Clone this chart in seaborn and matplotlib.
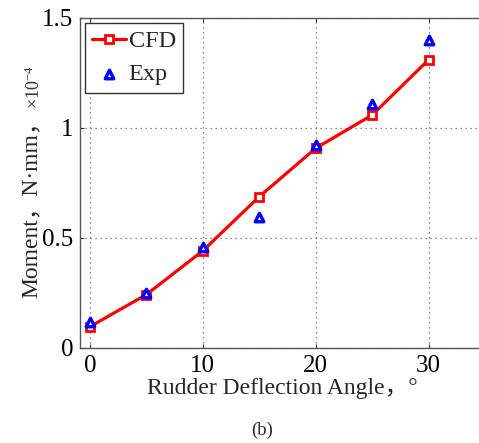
import matplotlib
matplotlib.use("Agg")
import matplotlib.pyplot as plt
import seaborn as sns
import pandas as pd

# Rudder deflection angle (degrees) and moment (x1e-4 N·mm)
angles = [0, 5, 10, 15, 20, 25, 30]
cfd_moment = [0.097, 0.243, 0.442, 0.688, 0.908, 1.059, 1.310]
exp_moment = [0.120, 0.252, 0.458, 0.597, 0.922, 1.110, 1.400]

x_ticks = [0, 10, 20, 30]
y_ticks = [0, 0.5, 1, 1.5]
y_tick_labels = ["0", "0.5", "1", "1.5"]

sns.set_style("ticks")
serif = ["Liberation Serif", "Noto Sans CJK SC", "DejaVu Sans"]
plt.rcParams["font.family"] = serif
plt.rcParams["mathtext.fontset"] = "custom"
plt.rcParams["mathtext.rm"] = "Liberation Serif"
plt.rcParams["mathtext.it"] = "Liberation Serif:italic"

df_cfd = pd.DataFrame({"angle": angles, "moment": cfd_moment})
df_exp = pd.DataFrame({"angle": angles, "moment": exp_moment})

W, H = 479, 443
fig = plt.figure(figsize=(W / 100, H / 100), dpi=100)
ax = fig.add_axes([80 / W, (H - 348) / H, 405 / W, 330 / H])

sns.lineplot(data=df_cfd, x="angle", y="moment", ax=ax, color="#ff0000",
             linewidth=2.3, marker="s", markersize=5.5, markerfacecolor="white",
             markeredgecolor="#ff0000", markeredgewidth=2.0, label="CFD",
             zorder=3)
sns.scatterplot(data=df_exp, x="angle", y="moment", ax=ax, marker="^",
                s=38, facecolor="white", edgecolor="#0000ff", linewidth=2.4,
                label="Exp", zorder=4)

ax.set_xlim(-0.885, 35)
ax.set_ylim(0, 1.5)
ax.set_xticks(x_ticks)
ax.set_yticks(y_ticks)
ax.set_yticklabels(y_tick_labels)
ax.tick_params(direction="in", length=3, width=0.8, labelsize=18, top=True,
               colors="#333333", labelcolor="black", pad=5)
for side in ["left", "bottom", "top"]:
    ax.spines[side].set_color("#555555")
    ax.spines[side].set_linewidth(1.0)
ax.spines["right"].set_visible(False)

ax.grid(True, linestyle=(0, (1, 3)), linewidth=0.9, color="#666666")
ax.set_axisbelow(True)

ax.set_xlabel("Rudder Deflection Angle，°", fontsize=17, labelpad=1)
ax.set_ylabel("")

fig.text(31 / W, (H - 298) / H, "Moment，N·mm，", rotation=90,
         ha="center", va="bottom", fontsize=17)
fig.text(34 / W, (H - 109) / H, "×10$^{-4}$", rotation=90,
         ha="center", va="bottom", fontsize=13, color="#333333")

leg = ax.legend(loc="upper left", bbox_to_anchor=(5 / 405, (348 - 23) / 330),
                fontsize=17.5, frameon=True, fancybox=False, borderaxespad=0,
                handlelength=1.4, handletextpad=0.1, borderpad=0.3,
                labelspacing=0.45)
leg.get_frame().set_edgecolor("#333333")
leg.get_frame().set_linewidth(1.0)
leg.get_frame().set_alpha(1)

fig.text(262 / W, (H - 430) / H, "(b)", ha="center", va="center", fontsize=13.5)

fig.savefig("out.png", dpi=100)
